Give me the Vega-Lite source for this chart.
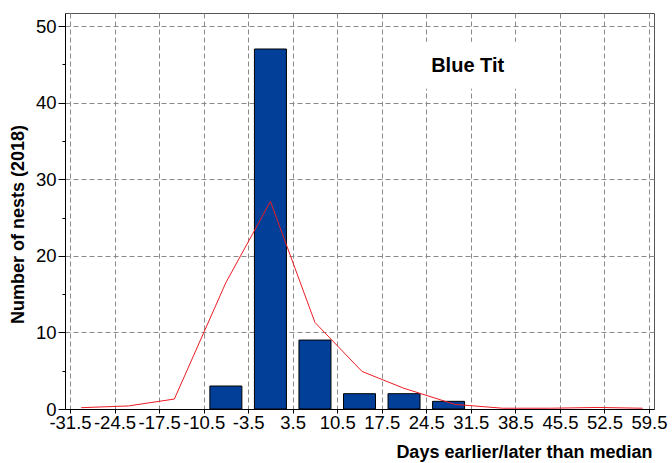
{
  "$schema": "https://vega.github.io/schema/vega-lite/v6.json",
  "width": 589,
  "height": 396,
  "autosize": {"type": "none"},
  "padding": {"left": 65, "top": 13, "right": 18, "bottom": 54},
  "config": {
    "view": {"stroke": "#555555", "strokeWidth": 1},
    "axis": {
      "labelFont": "Liberation Sans",
      "labelFontSize": 18.5,
      "labelColor": "#000000",
      "domainColor": "#000000",
      "tickColor": "#000000",
      "gridColor": "#8a8a8a",
      "gridDash": [5, 3],
      "gridWidth": 1,
      "titleFont": "Liberation Sans",
      "titleFontWeight": "bold",
      "titleFontSize": 18,
      "titleColor": "#000000"
    }
  },
  "layer": [
    {
      "data": {"values": [{"x1": 20.2, "x2": 42.6, "y1": 41.8, "y2": 47.95}]},
      "mark": {"type": "rect", "fill": "#ffffff", "stroke": null},
      "encoding": {
        "x": {"field": "x1", "type": "quantitative", "scale": {"domain": [-31.5, 59.5], "nice": false, "zero": false},
          "axis": {"values": [-31.5, -24.5, -17.5, -10.5, -3.5, 3.5, 10.5, 17.5, 24.5, 31.5, 38.5, 45.5, 52.5, 59.5],
            "format": ".1f", "labelExpr": "replace(datum.label, '\u2212', '-')", "tickSize": 4, "labelPadding": 0, "grid": true, "labelOverlap": false, "labelFlush": false, "labelBound": false,
            "title": "Days earlier/later than median", "titleAlign": "right", "titleBaseline": "middle", "titleX": 587, "titleY": 43}},
        "x2": {"field": "x2"},
        "y": {"field": "y1", "type": "quantitative", "scale": {"domain": [0, 51.7], "nice": false}, "axis": null},
        "y2": {"field": "y2"}
      }
    },
    {
      "data": {"values": [
        {"days": -7, "nests": 3},
        {"days": 0, "nests": 47},
        {"days": 7, "nests": 9},
        {"days": 14, "nests": 2},
        {"days": 21, "nests": 2},
        {"days": 28, "nests": 1}
      ]},
      "mark": {"type": "bar", "width": 32, "fill": "#013f98", "stroke": "#000000", "strokeWidth": 1},
      "encoding": {
        "x": {"field": "days", "type": "quantitative", "scale": {"domain": [-31.5, 59.5], "nice": false, "zero": false},
          "title": "Days earlier/later than median"},
        "y": {"field": "nests", "type": "quantitative", "scale": {"domain": [0, 51.7], "nice": false},
          "axis": {"orient": "left", "values": [0, 10, 20, 30, 40, 50], "tickSize": 7, "labelPadding": 2, "grid": true,
            "title": "Number of nests (2018)", "titleAlign": "center", "titleBaseline": "middle", "titleAngle": -90, "titleX": -47, "titleY": 211}}
      }
    },
    {
      "data": {"values": [
        {"days": -29.75, "nests": 0.17},
        {"days": -22.3, "nests": 0.4},
        {"days": -15.1, "nests": 1.3},
        {"days": -7, "nests": 16.5},
        {"days": 0, "nests": 27.1},
        {"days": 7, "nests": 11.3},
        {"days": 14.4, "nests": 4.9},
        {"days": 21, "nests": 2.7},
        {"days": 29, "nests": 0.6},
        {"days": 36.5, "nests": 0.1},
        {"days": 44, "nests": 0.1},
        {"days": 51.5, "nests": 0.2},
        {"days": 58.5, "nests": 0.1}
      ]},
      "mark": {"type": "line", "color": "#ee1c24", "strokeWidth": 1},
      "encoding": {
        "x": {"field": "days", "type": "quantitative", "scale": {"domain": [-31.5, 59.5], "nice": false, "zero": false},
          "title": "Days earlier/later than median"},
        "y": {"field": "nests", "type": "quantitative", "scale": {"domain": [0, 51.7], "nice": false},
          "axis": {"orient": "left", "values": [5, 15, 25, 35, 45], "tickSize": 3, "labels": false, "grid": false, "domain": false, "title": null}}
      }
    },
    {
      "data": {"values": [{"days": 31.0, "nests": 44.8, "label": "Blue Tit"}]},
      "mark": {"type": "text", "font": "Liberation Sans", "fontWeight": "bold", "fontSize": 20, "align": "center", "baseline": "middle", "color": "#000000"},
      "encoding": {
        "x": {"field": "days", "type": "quantitative", "scale": {"domain": [-31.5, 59.5], "nice": false, "zero": false},
          "title": "Days earlier/later than median"},
        "y": {"field": "nests", "type": "quantitative", "scale": {"domain": [0, 51.7], "nice": false}, "axis": null},
        "text": {"field": "label"}
      }
    }
  ],
  "resolve": {"axis": {"y": "independent"}}
}
